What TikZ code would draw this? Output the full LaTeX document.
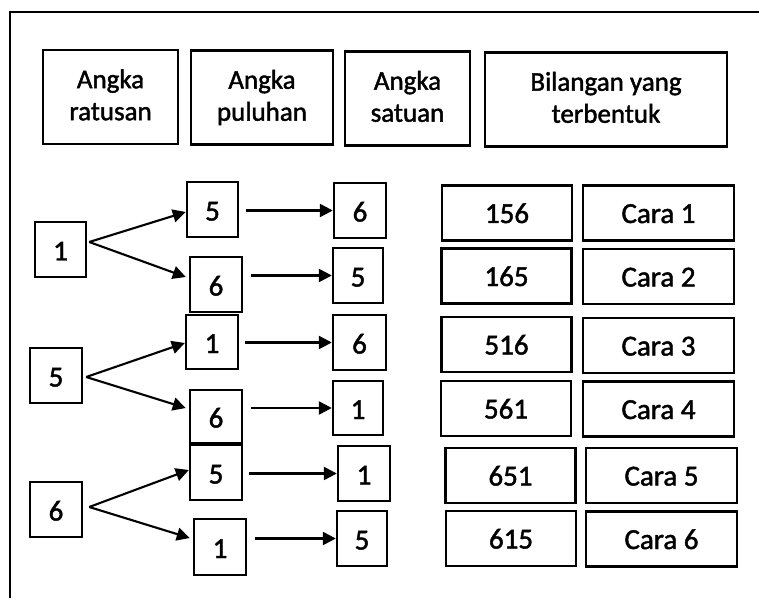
\documentclass[tikz,border=0pt]{standalone}
\usepackage{fontspec}
\setmainfont{Carlito}[FakeBold=1.6]
\usetikzlibrary{arrows.meta}
\tikzset{
  bx/.style={draw, line width=2.4pt, inner sep=0pt},
  hd/.style={bx, align=center, minimum height=94pt,
    font=\fontsize{27}{32}\selectfont},
  sq/.style={bx, minimum width=52pt, minimum height=55pt,
    text height=22pt, text depth=0pt,
    font=\fontsize{29}{32}\selectfont},
  rb/.style={bx, minimum width=130pt, minimum height=55pt,
    text height=20pt, text depth=0pt,
    font=\fontsize{29}{32}\selectfont},
  cb/.style={rb, minimum width=151pt},
  arr/.style={line width=2.4pt, -{Triangle[length=13pt,width=13pt]}},
}
\begin{document}
\begin{tikzpicture}[x=1pt,y=-1pt]
\useasboundingbox (0,0) rectangle (759,601);
% frame
\draw[line width=2.6pt] (759,12) -- (10,12) -- (10,598);
% headers
\node[hd, minimum width=135pt] (h1) at (110.5,97) {Angka\\ratusan\vphantom{p}};
\node[hd, minimum width=142pt] (h2) at (262,97.5) {Angka\\puluhan};
\node[hd, minimum width=125pt] (h3) at (407.5,98.5) {Angka\\satuan\vphantom{p}};
\node[hd, minimum width=242pt] (h4) at (606,99.5) {Bilangan yang\\terbentuk\vphantom{p}};
% roots
\node[sq, minimum width=51pt] (r1) at (60.5,249.5) {1};
\node[sq] (r2) at (56,375.5) {5};
\node[sq] (r3) at (56,509.5) {6};
% level 2
\node[sq, minimum width=51pt] (a1) at (212.5,209.5) {5};
\node[sq] (a2) at (216,284.5) {6};
\node[sq, minimum height=54pt] (b1) at (212,342) {1};
\node[sq, minimum height=53pt] (b2) at (216,416.5) {6};
\node[sq] (c1) at (216,472.5) {5};
\node[sq, minimum height=56pt] (c2) at (220,547) {1};
% level 3
\node[sq] (d1) at (360,210.5) {6};
\node[sq, minimum width=50pt] (d2) at (358,275.5) {5};
\node[sq, minimum width=53pt] (d3) at (359.5,342.5) {6};
\node[sq, minimum width=50pt, minimum height=54pt] (d4) at (358,408) {1};
\node[sq] (d5) at (364,473.5) {1};
\node[sq, minimum width=50pt] (d6) at (362,538.5) {5};
% results
\node[rb] (n1) at (507,213) {156};
\node[rb] (n2) at (506.5,276) {165};
\node[rb] (n3) at (506.5,344.5) {516};
\node[rb] (n4) at (506,408.5) {561};
\node[rb] (n5) at (510.5,475.5) {651};
\node[rb] (n6) at (511,538.5) {615};
\node[cb] (k1) at (658.5,213) {Cara 1};
\node[cb] (k2) at (658.5,276.5) {Cara 2};
\node[cb] (k3) at (658.5,345.5) {Cara 3};
\node[cb] (k4) at (658.5,409) {Cara 4};
\node[cb] (k5) at (661.5,475.5) {Cara 5};
\node[cb] (k6) at (661.5,539) {Cara 6};
% diagonal arrows
\draw[arr, line width=2.1pt] ([shift={(2,-7.5)}]r1.east) -- ([yshift=-2.5pt]a1.west);
\draw[arr, line width=2.1pt] ([shift={(2,-7.5)}]r1.east) -- ([shift={(-3,-7.5)}]a2.west);
\draw[arr, line width=2.1pt] ([shift={(3,1.5)}]r2.east) -- ([yshift=-1]b1.west);
\draw[arr, line width=2.1pt] ([shift={(3,1.5)}]r2.east) -- ([shift={(-3,-8.5)}]b2.west);
\draw[arr, line width=2.1pt] ([shift={(6,-2.5)}]r3.east) -- ([yshift=2.5]c1.west);
\draw[arr, line width=2.1pt] ([shift={(6,-2.5)}]r3.east) -- ([shift={(-3,-9)}]c2.west);
% horizontal arrows
\draw[arr] ([xshift=7]a1.east |- d1.west) -- (d1.west);
\draw[arr] ([xshift=8]a2.east |- d2.west) -- (d2.west);
\draw[arr] ([xshift=6]b1.east |- d3.west) -- (d3.west);
\draw[arr] ([xshift=8]b2.east |- d4.west) -- (d4.west);
\draw[arr] ([xshift=6]c1.east |- d5.west) -- (d5.west);
\draw[arr] ([xshift=8]c2.east |- d6.west) -- (d6.west);
\end{tikzpicture}
\end{document}
